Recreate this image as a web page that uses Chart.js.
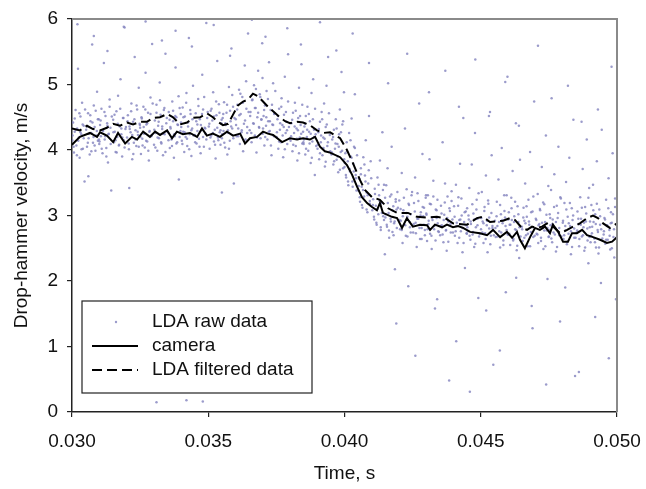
<!DOCTYPE html>
<html>
<head>
<meta charset="utf-8">
<script src="https://cdn.jsdelivr.net/npm/chart.js@4.4.0/dist/chart.umd.min.js"></script>
<style>
  html, body { margin: 0; padding: 0; background: #fff; }
  canvas { display: block; }
</style>
</head>
<body>
<canvas id="chart" width="646" height="489"></canvas>
<script>
// all times in ms (axis labels are shown in s), velocities in m/s
const seriesNames = ['LDA raw data', 'camera', 'LDA filtered data'];

const cameraTime = [
  30.00,30.29,30.66,30.92,31.03,31.28,31.51,31.69,31.95,32.20,
  32.39,32.61,32.86,33.05,33.23,33.49,33.67,33.85,34.07,34.33,
  34.59,34.77,34.95,35.17,35.43,35.69,35.91,36.17,36.35,36.53,
  36.79,37.01,37.19,37.38,37.71,38.00,38.26,38.48,38.73,38.92,
  39.10,39.28,39.47,39.84,40.09,40.28,40.46,40.64,40.83,41.01,
  41.19,41.30,41.41,41.74,41.93,42.11,42.29,42.51,42.77,43.03,
  43.14,43.32,43.58,43.76,43.98,44.17,44.35,44.61,44.97,45.23,
  45.45,45.71,45.96,46.15,46.33,46.44,46.62,46.81,46.99,47.17,
  47.36,47.54,47.65,47.84,48.02,48.20,48.35,48.53,48.72,48.90,
  49.12,49.38,49.63,49.82,50.00
];
const cameraVelocity = [
  4.08,4.2,4.26,4.2,4.27,4.22,4.12,4.26,4.1,4.2,
  4.16,4.28,4.2,4.28,4.23,4.3,4.18,4.28,4.24,4.26,
  4.2,4.33,4.22,4.25,4.2,4.28,4.22,4.25,4.1,4.18,
  4.2,4.28,4.25,4.23,4.12,4.18,4.16,4.18,4.16,4.2,
  4.05,3.98,3.96,3.89,3.77,3.62,3.44,3.28,3.19,3.13,
  3.08,3.19,3.04,2.98,2.96,2.81,2.96,2.83,2.86,2.85,
  2.78,2.86,2.82,2.86,2.82,2.84,2.81,2.75,2.73,2.7,
  2.78,2.67,2.75,2.66,2.75,2.63,2.5,2.67,2.81,2.78,
  2.83,2.73,2.86,2.75,2.6,2.6,2.73,2.73,2.78,2.7,
  2.67,2.63,2.58,2.6,2.67
];

const filteredTime = [
  30.00,30.29,30.55,30.77,31.03,31.28,31.51,31.76,32.02,32.24,
  32.50,32.75,32.97,33.23,33.49,33.71,33.96,34.22,34.44,34.70,
  34.95,35.17,35.36,35.54,35.73,35.91,36.09,36.28,36.46,36.64,
  36.83,37.01,37.19,37.38,37.63,37.82,38.00,38.26,38.48,38.73,
  38.99,39.21,39.47,39.84,40.09,40.31,40.57,40.75,41.01,41.30,
  41.60,41.93,42.33,42.66,43.03,43.39,43.69,43.98,44.50,44.86,
  45.08,45.34,45.60,45.82,46.07,46.26,46.51,46.70,46.88,47.06,
  47.25,47.43,47.65,47.91,48.17,48.39,48.64,48.90,49.12,49.30,
  49.49,49.74,50.00
];
const filteredVelocity = [
  4.33,4.3,4.37,4.32,4.3,4.34,4.4,4.37,4.42,4.39,
  4.43,4.43,4.49,4.5,4.55,4.5,4.39,4.42,4.49,4.5,
  4.56,4.5,4.43,4.38,4.4,4.54,4.68,4.74,4.77,4.86,
  4.82,4.74,4.66,4.59,4.5,4.44,4.41,4.43,4.42,4.38,
  4.3,4.26,4.27,4.18,4.0,3.8,3.54,3.39,3.28,3.24,
  3.11,3.04,3.04,2.98,2.97,2.98,2.96,2.88,2.86,2.96,
  2.98,2.9,2.91,2.92,2.96,2.93,2.81,2.78,2.83,2.81,
  2.83,2.88,2.83,2.73,2.78,2.83,2.88,2.96,3.0,2.96,
  2.88,2.81,2.88
];

// LDA raw samples, spread part
const rawTime = [
  30.01,30.04,30.07,30.10,30.13,30.16,30.19,30.22,30.25,30.28,30.31,30.34,30.37,30.40,30.43,30.46,
  30.52,30.55,30.59,30.61,30.65,30.68,30.71,30.74,30.77,30.80,30.83,30.86,30.89,30.92,30.95,30.98,
  31.00,31.03,31.06,31.08,31.12,31.14,31.17,31.20,31.23,31.26,31.29,31.32,31.35,31.38,31.41,31.44,
  31.51,31.54,31.57,31.60,31.63,31.66,31.69,31.72,31.75,31.78,31.81,31.84,31.87,31.90,31.93,31.96,
  32.02,32.05,32.09,32.11,32.15,32.18,32.21,32.24,32.27,32.30,32.33,32.36,32.39,32.42,32.45,32.48,
  32.50,32.53,32.56,32.58,32.62,32.64,32.67,32.70,32.73,32.76,32.79,32.82,32.85,32.88,32.91,32.94,
  33.01,33.04,33.07,33.10,33.13,33.16,33.19,33.22,33.25,33.28,33.31,33.34,33.37,33.40,33.43,33.46,
  33.52,33.55,33.59,33.61,33.65,33.68,33.71,33.74,33.77,33.80,33.83,33.86,33.89,33.92,33.95,33.98,
  34.00,34.03,34.06,34.08,34.12,34.14,34.17,34.20,34.23,34.26,34.29,34.32,34.35,34.38,34.41,34.44,
  34.51,34.54,34.57,34.60,34.63,34.66,34.69,34.72,34.75,34.78,34.81,34.84,34.87,34.90,34.93,34.96,
  35.02,35.05,35.09,35.11,35.15,35.18,35.21,35.24,35.27,35.30,35.33,35.36,35.39,35.42,35.45,35.48,
  35.50,35.53,35.56,35.58,35.62,35.64,35.67,35.70,35.73,35.76,35.79,35.82,35.85,35.88,35.91,35.94,
  36.01,36.04,36.07,36.10,36.13,36.16,36.19,36.22,36.25,36.28,36.31,36.34,36.37,36.40,36.43,36.46,
  36.52,36.55,36.59,36.61,36.65,36.68,36.71,36.74,36.77,36.80,36.83,36.86,36.89,36.92,36.95,36.98,
  37.00,37.03,37.06,37.08,37.12,37.14,37.17,37.20,37.23,37.26,37.29,37.32,37.35,37.38,37.41,37.44,
  37.51,37.54,37.57,37.60,37.63,37.66,37.69,37.72,37.75,37.78,37.81,37.84,37.87,37.90,37.93,37.96,
  38.02,38.05,38.09,38.11,38.15,38.18,38.21,38.24,38.27,38.30,38.33,38.36,38.39,38.42,38.45,38.48,
  38.50,38.53,38.56,38.58,38.62,38.64,38.67,38.70,38.73,38.76,38.79,38.82,38.85,38.88,38.91,38.94,
  39.01,39.04,39.07,39.10,39.13,39.16,39.19,39.22,39.25,39.28,39.31,39.34,39.37,39.40,39.43,39.46,
  39.52,39.55,39.59,39.61,39.65,39.68,39.71,39.74,39.77,39.80,39.83,39.86,39.89,39.92,39.95,39.98,
  40.00,40.03,40.06,40.08,40.12,40.14,40.17,40.20,40.23,40.26,40.29,40.32,40.35,40.38,40.41,40.44,
  40.51,40.54,40.57,40.60,40.63,40.66,40.69,40.72,40.75,40.78,40.81,40.84,40.87,40.90,40.93,40.96,
  41.02,41.05,41.09,41.11,41.15,41.18,41.21,41.24,41.27,41.30,41.33,41.36,41.39,41.42,41.45,41.48,
  41.50,41.53,41.56,41.58,41.62,41.64,41.67,41.70,41.73,41.76,41.79,41.82,41.85,41.88,41.91,41.94,
  42.01,42.04,42.07,42.10,42.13,42.16,42.19,42.22,42.25,42.28,42.31,42.34,42.37,42.40,42.43,42.46,
  42.52,42.55,42.59,42.61,42.65,42.68,42.71,42.74,42.77,42.80,42.83,42.86,42.89,42.92,42.95,42.98,
  43.00,43.03,43.06,43.08,43.12,43.14,43.17,43.20,43.23,43.26,43.29,43.32,43.35,43.38,43.41,43.44,
  43.51,43.54,43.57,43.60,43.63,43.66,43.69,43.72,43.75,43.78,43.81,43.84,43.87,43.90,43.93,43.96,
  44.02,44.05,44.09,44.11,44.15,44.18,44.21,44.24,44.27,44.30,44.33,44.36,44.39,44.42,44.45,44.48,
  44.50,44.53,44.56,44.58,44.62,44.64,44.67,44.70,44.73,44.76,44.79,44.82,44.85,44.88,44.91,44.94,
  45.01,45.04,45.07,45.10,45.13,45.16,45.19,45.22,45.25,45.28,45.31,45.34,45.37,45.40,45.43,45.46,
  45.52,45.55,45.59,45.61,45.65,45.68,45.71,45.74,45.77,45.80,45.83,45.86,45.89,45.92,45.95,45.98,
  46.00,46.03,46.06,46.08,46.12,46.14,46.17,46.20,46.23,46.26,46.29,46.32,46.35,46.38,46.41,46.44,
  46.51,46.54,46.57,46.60,46.63,46.66,46.69,46.72,46.75,46.78,46.81,46.84,46.87,46.90,46.93,46.96,
  47.02,47.05,47.09,47.11,47.15,47.18,47.21,47.24,47.27,47.30,47.33,47.36,47.39,47.42,47.45,47.48,
  47.50,47.53,47.56,47.58,47.62,47.64,47.67,47.70,47.73,47.76,47.79,47.82,47.85,47.88,47.91,47.94,
  48.01,48.04,48.07,48.10,48.13,48.16,48.19,48.22,48.25,48.28,48.31,48.34,48.37,48.40,48.43,48.46,
  48.52,48.55,48.59,48.61,48.65,48.68,48.71,48.74,48.77,48.80,48.83,48.86,48.89,48.92,48.95,48.98,
  49.00,49.03,49.06,49.08,49.12,49.14,49.17,49.20,49.23,49.26,49.29,49.32,49.35,49.38,49.41,49.44,
  49.51,49.54,49.57,49.60,49.63,49.66,49.69,49.72,49.75,49.78,49.81,49.84,49.87,49.90,49.93,49.96,
  // sparse points far from the band
  30.2,30.8,31.3,31.9,32.7,33.3,33.8,34.4,35.2,35.8,36.6,37.1,37.9,38.4,39.1,39.7,40.3,
  40.9,41.6,42.3,43.1,43.7,44.2,44.8,45.3,45.9,46.4,47.1,47.6,48.2,48.7,49.3,49.8,
  41.9,42.6,43.4,44.1,44.6,45.2,45.7,46.3,46.9,47.4,48.1,48.6,49.2,49.7,
  33.1,34.2,34.8,35.5,32.1,30.6
];
const rawVelocity = [
  4.15,4.42,3.96,4.28,4.61,4.07,4.33,5.24,4.19,3.88,4.51,4.24,4.72,4.02,4.37,3.52,
  4.31,4.05,4.56,4.18,3.93,4.44,4.26,5.61,4.11,4.68,4.35,3.99,4.22,4.89,4.14,4.47,
  4.09,4.38,4.21,4.63,3.95,4.29,5.33,4.16,4.52,4.03,4.41,3.81,4.25,4.77,4.34,3.38,
  4.46,4.12,4.28,3.97,4.59,4.2,4.83,4.07,4.36,5.08,4.24,3.9,4.49,4.15,5.87,4.32,
  4.19,4.53,4.01,4.36,4.27,4.71,3.86,4.43,4.11,5.42,4.3,4.06,4.62,4.23,4.95,4.4,
  4.34,3.94,4.48,4.17,4.66,4.25,4.04,5.18,4.39,4.13,4.57,3.84,4.29,4.8,4.21,5.62,
  4.08,4.45,4.26,4.69,3.99,4.37,4.18,5.03,4.54,4.1,4.32,3.92,4.61,4.24,5.47,4.41,
  4.27,4.58,4.03,4.35,4.16,4.74,4.44,3.88,4.21,5.26,4.5,4.12,4.38,3.55,4.64,4.29,
  4.42,4.14,4.65,4.28,3.97,4.51,4.2,4.87,4.06,4.36,5.71,4.24,4.55,3.91,4.33,4.98,
  4.23,4.56,4.1,4.39,4.78,4.17,4.47,3.95,4.3,5.15,4.62,4.05,4.34,4.25,5.94,4.49,
  4.36,4.02,4.6,4.22,4.45,4.88,4.13,4.31,3.87,4.53,5.36,4.19,4.7,4.27,4.08,4.41,
  4.18,4.49,4.29,4.73,4.04,4.38,4.57,3.93,4.26,4.96,4.14,4.44,5.55,4.33,4.66,3.49,
  4.47,4.21,4.69,4.33,4.92,4.09,4.55,4.27,4.81,3.98,4.4,5.29,4.16,4.63,4.35,5.78,
  4.3,4.58,4.12,4.76,4.41,4.99,4.22,4.64,3.96,4.5,5.21,4.35,4.85,4.18,4.46,5.63,
  4.25,4.52,4.07,4.68,4.37,4.9,4.16,4.44,5.34,4.29,4.61,3.92,4.39,5.02,4.21,4.56,
  4.2,4.47,4.02,4.63,4.31,4.12,4.79,4.38,3.89,4.54,5.12,4.26,4.43,4.09,5.46,4.35,
  4.14,4.41,3.98,4.57,4.26,4.72,4.06,4.33,3.84,4.49,4.95,4.19,4.38,5.31,4.1,4.28,
  4.09,4.36,3.93,4.52,4.2,4.66,3.99,4.28,4.44,3.8,4.87,4.13,5.08,4.31,3.62,4.24,
  4.02,4.27,3.86,4.43,4.12,4.58,3.92,4.19,4.71,3.75,4.35,4.98,4.06,5.42,3.97,4.23,
  3.93,4.16,3.78,4.31,4.02,4.47,3.85,4.09,3.66,4.24,4.62,3.97,5.19,4.39,3.72,4.88,
  3.74,3.95,3.58,4.12,3.83,3.46,4.26,3.67,3.9,4.48,3.52,3.79,4.05,4.85,3.62,3.38,
  3.38,3.56,3.21,3.72,3.44,3.12,3.89,3.29,3.61,4.15,3.35,3.05,3.49,4.52,3.18,3.83,
  3.08,3.25,2.94,3.41,3.15,2.86,3.58,3.02,3.31,3.84,2.78,3.19,4.27,2.99,3.47,2.41,
  2.97,3.46,2.83,3.72,3.04,2.66,3.29,2.91,4.05,2.75,3.14,2.88,2.18,3.21,3.09,3.36,
  3.23,2.79,2.92,3.65,2.58,3.08,2.86,4.33,2.69,3.4,2.98,1.92,3.16,2.82,3.02,3.31,
  2.74,3.19,3.58,2.89,2.52,3.34,2.95,4.71,2.64,3.05,2.81,3.94,2.99,3.12,2.78,3.27,
  3.03,2.61,3.31,2.87,3.86,2.72,3.17,2.49,2.93,3.53,2.79,1.58,3.09,2.96,3.24,2.76,
  2.7,3.15,2.85,4.12,2.59,3.01,3.49,2.77,2.46,3.29,2.91,0.48,3.07,2.74,3.22,2.94,
  3.14,2.69,3.47,2.84,2.58,3.28,2.93,3.79,2.76,3.0,2.44,4.49,2.9,2.2,3.06,2.73,
  3.11,2.76,2.94,3.42,2.63,2.87,3.78,2.71,3.03,2.52,4.26,2.82,3.24,2.95,1.74,2.68,
  2.79,3.36,2.91,2.58,3.07,2.73,3.61,2.85,2.44,3.18,2.97,4.58,2.69,3.92,2.81,0.72,
  2.92,2.67,3.21,2.84,3.55,2.76,2.51,3.02,4.03,2.88,2.62,3.31,2.97,1.83,2.78,5.12,
  2.71,3.05,2.86,2.55,3.27,2.93,3.68,2.64,2.99,2.79,4.41,2.47,3.14,2.9,2.35,3.85,
  2.83,2.61,3.12,2.92,3.49,2.7,2.98,2.53,3.24,2.86,3.97,2.75,1.62,3.06,2.67,4.74,
  2.95,2.72,3.33,2.58,2.87,3.08,2.66,3.74,2.81,2.49,3.17,2.9,4.22,2.77,2.03,3.45,
  2.68,3.02,2.85,3.39,2.59,2.94,2.74,3.63,2.81,2.45,3.15,2.96,4.05,2.7,1.38,3.26,
  2.89,2.64,3.19,2.77,3.51,2.56,2.98,2.72,3.88,2.84,2.41,3.11,2.93,4.46,2.66,0.55,
  2.74,3.06,2.87,2.53,3.28,2.95,2.68,3.71,2.82,2.46,3.13,2.91,4.16,2.62,2.27,3.42,
  2.82,2.59,3.16,2.73,3.47,2.9,2.65,3.02,2.51,3.83,2.78,2.42,3.09,2.86,1.97,4.31,
  2.71,2.96,2.57,3.24,2.84,2.63,3.57,2.78,2.48,3.05,2.89,3.95,2.67,2.36,3.13,1.72,
  5.92,5.74,5.51,5.88,5.96,5.67,5.82,5.58,5.91,5.44,5.99,5.73,5.86,5.61,5.95,5.52,5.78,
  5.33,5.02,5.47,4.88,5.21,4.66,5.38,4.52,5.04,4.37,5.59,4.79,4.98,4.43,4.62,5.27,
  1.35,0.86,1.72,1.08,0.31,1.55,0.94,2.05,1.28,0.42,1.9,0.61,1.45,0.82,
  0.15,0.18,0.16,3.35,3.42,3.6
];

// LDA raw samples, dense core of the band
const coreTime = [
  30.02,30.06,30.10,30.14,30.18,30.23,30.27,30.31,30.35,30.39,30.43,30.48,
  30.54,30.58,30.62,30.67,30.71,30.75,30.79,30.83,30.87,30.91,30.95,30.99,
  31.01,31.05,31.09,31.13,31.19,31.22,31.26,31.30,31.34,31.38,31.42,31.46,
  31.52,31.56,31.60,31.64,31.68,31.73,31.77,31.81,31.85,31.89,31.93,31.98,
  32.04,32.08,32.12,32.17,32.21,32.25,32.29,32.33,32.37,32.41,32.45,32.49,
  32.51,32.55,32.59,32.63,32.69,32.72,32.76,32.80,32.84,32.88,32.92,32.96,
  33.02,33.06,33.10,33.14,33.18,33.23,33.27,33.31,33.35,33.39,33.43,33.48,
  33.54,33.58,33.62,33.67,33.71,33.75,33.79,33.83,33.87,33.91,33.95,33.99,
  34.01,34.05,34.09,34.13,34.19,34.22,34.26,34.30,34.34,34.38,34.42,34.46,
  34.52,34.56,34.60,34.64,34.68,34.73,34.77,34.81,34.85,34.89,34.93,34.98,
  35.04,35.08,35.12,35.17,35.21,35.25,35.29,35.33,35.37,35.41,35.45,35.49,
  35.51,35.55,35.59,35.63,35.69,35.72,35.76,35.80,35.84,35.88,35.92,35.96,
  36.02,36.06,36.10,36.14,36.18,36.23,36.27,36.31,36.35,36.39,36.43,36.48,
  36.54,36.58,36.62,36.67,36.71,36.75,36.79,36.83,36.87,36.91,36.95,36.99,
  37.01,37.05,37.09,37.13,37.19,37.22,37.26,37.30,37.34,37.38,37.42,37.46,
  37.52,37.56,37.60,37.64,37.68,37.73,37.77,37.81,37.85,37.89,37.93,37.98,
  38.04,38.08,38.12,38.17,38.21,38.25,38.29,38.33,38.37,38.41,38.45,38.49,
  38.51,38.55,38.59,38.63,38.69,38.72,38.76,38.80,38.84,38.88,38.92,38.96,
  39.02,39.06,39.10,39.14,39.18,39.23,39.27,39.31,39.35,39.39,39.43,39.48,
  39.54,39.58,39.62,39.67,39.71,39.75,39.79,39.83,39.87,39.91,39.95,39.99,
  40.01,40.05,40.09,40.13,40.19,40.22,40.26,40.30,40.34,40.38,40.42,40.46,
  40.52,40.56,40.60,40.64,40.68,40.73,40.77,40.81,40.85,40.89,40.93,40.98,
  41.04,41.08,41.12,41.17,41.21,41.25,41.29,41.33,41.37,41.41,41.45,41.49,
  41.51,41.55,41.59,41.63,41.69,41.72,41.76,41.80,41.84,41.88,41.92,41.96,
  42.02,42.06,42.10,42.14,42.18,42.23,42.27,42.31,42.35,42.39,42.43,42.48,
  42.54,42.58,42.62,42.67,42.71,42.75,42.79,42.83,42.87,42.91,42.95,42.99,
  43.01,43.05,43.09,43.13,43.19,43.22,43.26,43.30,43.34,43.38,43.42,43.46,
  43.52,43.56,43.60,43.64,43.68,43.73,43.77,43.81,43.85,43.89,43.93,43.98,
  44.04,44.08,44.12,44.17,44.21,44.25,44.29,44.33,44.37,44.41,44.45,44.49,
  44.51,44.55,44.59,44.63,44.69,44.72,44.76,44.80,44.84,44.88,44.92,44.96,
  45.02,45.06,45.10,45.14,45.18,45.23,45.27,45.31,45.35,45.39,45.43,45.48,
  45.54,45.58,45.62,45.67,45.71,45.75,45.79,45.83,45.87,45.91,45.95,45.99,
  46.01,46.05,46.09,46.13,46.19,46.22,46.26,46.30,46.34,46.38,46.42,46.46,
  46.52,46.56,46.60,46.64,46.68,46.73,46.77,46.81,46.85,46.89,46.93,46.98,
  47.04,47.08,47.12,47.17,47.21,47.25,47.29,47.33,47.37,47.41,47.45,47.49,
  47.51,47.55,47.59,47.63,47.69,47.72,47.76,47.80,47.84,47.88,47.92,47.96,
  48.02,48.06,48.10,48.14,48.18,48.23,48.27,48.31,48.35,48.39,48.43,48.48,
  48.54,48.58,48.62,48.67,48.71,48.75,48.79,48.83,48.87,48.91,48.95,48.99,
  49.01,49.05,49.09,49.13,49.19,49.22,49.26,49.30,49.34,49.38,49.42,49.46,
  49.52,49.56,49.60,49.64,49.68,49.73,49.77,49.81,49.85,49.89,49.93,49.98
];
const coreVelocity = [
  4.22,4.05,4.48,4.31,3.92,4.14,4.56,4.27,4.01,4.39,4.18,4.62,
  4.36,4.11,4.25,4.53,3.98,4.42,4.2,4.07,4.6,4.29,4.47,4.16,
  4.13,4.45,4.02,4.3,4.58,4.21,3.9,4.37,4.24,4.66,4.09,4.51,
  4.27,4.54,4.15,3.96,4.4,4.08,4.63,4.33,4.19,4.49,4.04,4.35,
  4.44,4.1,4.32,4.59,4.23,3.94,4.47,4.16,4.68,4.28,4.05,4.38,
  4.2,4.5,4.07,4.35,4.62,4.14,4.41,3.99,4.28,4.55,4.23,4.71,
  4.31,4.04,4.57,4.19,4.43,4.76,4.12,4.36,4.25,4.64,3.97,4.49,
  4.15,4.46,4.33,4.06,4.6,4.24,4.52,4.1,4.39,4.82,4.2,4.55,
  4.35,4.09,4.5,4.27,4.72,4.17,4.42,4.01,4.61,4.3,4.47,4.22,
  4.12,4.44,4.29,4.67,4.05,4.38,4.55,4.2,4.81,4.33,4.16,4.58,
  4.4,4.19,4.63,4.26,4.51,4.08,4.74,4.34,4.15,4.57,4.3,4.46,
  4.24,4.55,4.11,4.41,4.69,4.3,4.02,4.6,4.36,4.84,4.18,4.49,
  4.38,4.62,4.21,4.53,4.86,4.3,4.72,4.14,4.45,5.05,4.26,4.58,
  4.52,4.26,4.77,4.4,4.64,4.93,4.19,4.57,4.34,4.81,4.47,5.1,
  4.33,4.61,4.2,4.5,4.78,4.28,4.44,4.07,4.69,4.38,4.55,4.9,
  4.27,4.52,4.13,4.41,4.66,4.22,4.35,4.01,4.58,4.3,4.74,4.17,
  4.21,4.46,4.08,4.36,4.6,4.17,4.3,3.95,4.52,4.25,4.69,4.12,
  4.16,4.4,4.02,4.31,4.55,4.1,4.25,3.88,4.47,4.2,4.63,4.06,
  4.08,4.32,3.95,4.22,4.47,4.03,4.17,3.82,4.39,4.12,4.56,3.98,
  3.96,4.2,3.83,4.1,4.33,3.9,4.05,3.7,4.27,3.99,4.44,3.86,
  3.8,3.62,3.98,3.52,3.71,4.15,3.88,3.44,3.67,4.03,3.57,3.92,
  3.45,3.28,3.63,3.16,3.39,3.78,3.52,3.09,3.31,3.69,3.22,3.57,
  3.16,2.98,3.33,2.89,3.1,3.47,3.22,2.82,3.04,3.39,2.93,3.27,
  3.02,2.86,3.19,2.77,2.95,3.32,3.08,2.7,2.91,3.25,2.81,3.12,
  2.93,3.1,2.78,2.99,3.27,2.85,3.04,2.68,3.18,2.9,2.74,3.36,
  2.87,3.06,2.73,2.95,3.22,2.81,3.0,2.64,3.13,2.86,2.7,3.31,
  3.01,2.79,2.92,3.18,2.69,2.97,3.29,2.84,2.62,3.08,2.88,2.75,
  2.84,3.03,2.71,2.93,3.2,2.78,2.96,2.6,3.11,2.87,3.37,2.74,
  2.98,2.76,2.89,3.15,2.66,2.94,3.26,2.81,2.58,3.05,2.85,2.72,
  2.82,3.0,2.69,2.91,3.17,2.75,2.94,2.57,3.09,2.85,3.34,2.72,
  2.96,2.74,2.88,3.13,2.64,2.92,3.23,2.8,2.56,3.04,2.84,2.7,
  2.81,2.99,2.68,2.9,3.16,2.74,2.93,2.55,3.07,2.84,3.31,2.71,
  2.94,2.72,2.86,3.11,2.62,2.9,3.21,2.78,2.54,3.02,2.82,2.68,
  2.79,2.97,2.66,2.88,3.14,2.72,2.91,2.53,3.05,2.82,3.29,2.69,
  2.93,2.71,2.85,3.1,2.61,2.89,3.2,2.77,2.53,3.01,2.81,2.67,
  2.78,2.96,2.65,2.87,3.13,2.71,2.9,2.52,3.04,2.81,3.28,2.68,
  2.92,2.7,2.84,3.09,2.6,2.88,3.19,2.76,2.52,3.0,2.8,2.66,
  2.77,2.95,2.64,2.86,3.12,2.7,2.89,2.51,3.03,2.8,3.27,2.67,
  2.91,2.69,2.83,3.08,2.59,2.87,3.18,2.75,2.51,2.99,2.79,2.65,
  2.76,2.94,2.63,2.85,3.11,2.69,2.88,2.5,3.02,2.79,3.26,2.66
];

const FONT = '"Liberation Sans", Arial, sans-serif';
Chart.defaults.font.family = FONT;
Chart.defaults.font.size = 19;
Chart.defaults.color = '#111';

function toPoints(xs, ys) {
  return xs.map((x, i) => ({ x: x, y: ys[i] }));
}

// grey frame on top and right of the plot
const framePlugin = {
  id: 'frame',
  afterDatasetsDraw(chart) {
    const { ctx, chartArea: a } = chart;
    ctx.save();
    ctx.strokeStyle = '#8a8a8a';
    ctx.lineWidth = 2;
    ctx.beginPath();
    ctx.moveTo(a.left, a.top);
    ctx.lineTo(a.right, a.top);
    ctx.lineTo(a.right, a.bottom);
    ctx.stroke();
    ctx.restore();
  }
};

// boxed legend inside the lower left corner of the plot
const boxLegend = {
  id: 'boxLegend',
  afterDraw(chart) {
    const { ctx, chartArea: a } = chart;
    const x = a.left + 10, y = a.bottom - 111, w = 230, h = 92;
    ctx.save();
    ctx.fillStyle = '#fff';
    ctx.fillRect(x, y, w, h);
    ctx.strokeStyle = '#222';
    ctx.lineWidth = 1.2;
    ctx.strokeRect(x, y, w, h);
    ctx.font = '19px ' + FONT;
    ctx.textBaseline = 'middle';
    chart.data.datasets.forEach((ds, i) => {
      const rowY = y + 21 + i * 24;
      if (ds.showLine) {
        ctx.strokeStyle = ds.borderColor;
        ctx.lineWidth = ds.borderWidth;
        ctx.setLineDash(ds.borderDash || []);
        ctx.beginPath();
        ctx.moveTo(x + 10, rowY);
        ctx.lineTo(x + 56, rowY);
        ctx.stroke();
        ctx.setLineDash([]);
      } else {
        ctx.fillStyle = ds.backgroundColor;
        ctx.beginPath();
        ctx.arc(x + 34, rowY, 1.2, 0, Math.PI * 2);
        ctx.fill();
      }
      ctx.fillStyle = '#111';
      ctx.fillText(ds.label, x + 70, rowY);
    });
    ctx.restore();
  }
};

new Chart(document.getElementById('chart'), {
  type: 'scatter',
  data: {
    datasets: [
      {
        label: seriesNames[0],
        data: toPoints(rawTime, rawVelocity).concat(toPoints(coreTime, coreVelocity)),
        showLine: false,
        pointRadius: 1.25,
        pointBorderWidth: 0,
        backgroundColor: 'rgba(130,130,190,0.8)',
        borderColor: 'rgba(130,130,190,0.8)',
        order: 3
      },
      {
        label: seriesNames[1],
        data: toPoints(cameraTime, cameraVelocity),
        showLine: true,
        pointRadius: 0,
        borderColor: '#000',
        borderWidth: 2,
        tension: 0,
        order: 1
      },
      {
        label: seriesNames[2],
        data: toPoints(filteredTime, filteredVelocity),
        showLine: true,
        pointRadius: 0,
        borderColor: '#000',
        borderWidth: 2,
        borderDash: [10, 5],
        tension: 0,
        order: 2
      }
    ]
  },
  options: {
    responsive: false,
    animation: false,
    layout: { padding: { left: 6, right: 29, top: 19, bottom: 4 } },
    plugins: {
      legend: { display: false },
      tooltip: { enabled: false }
    },
    scales: {
      x: {
        type: 'linear',
        min: 30,
        max: 50,
        ticks: {
          stepSize: 5,
          padding: 13,
          maxRotation: 0,
          callback: v => (v / 1000).toFixed(3)
        },
        grid: { drawOnChartArea: false, tickLength: 5, color: '#222', lineWidth: 1.2 },
        border: { color: '#222', width: 1.5 },
        title: { display: true, text: 'Time, s', padding: { top: 0, bottom: 0 } },
        afterFit(scale) {
          scale.height = 73;
          // labels may overhang the plot edges; the outer padding covers them
          scale.paddingLeft = 0;
          scale.paddingRight = 0;
        }
      },
      y: {
        min: 0,
        max: 6,
        ticks: { stepSize: 1, padding: 9 },
        grid: { drawOnChartArea: false, tickLength: 5, color: '#222', lineWidth: 1.2 },
        border: { color: '#222', width: 1.5 },
        title: { display: true, text: 'Drop-hammer velocity, m/s', padding: { top: 4, bottom: 4 } },
        afterFit(scale) {
          scale.width = 66;
          scale.paddingTop = 0;
          scale.paddingBottom = 0;
        }
      }
    }
  },
  plugins: [framePlugin, boxLegend]
});
</script>
</body>
</html>
